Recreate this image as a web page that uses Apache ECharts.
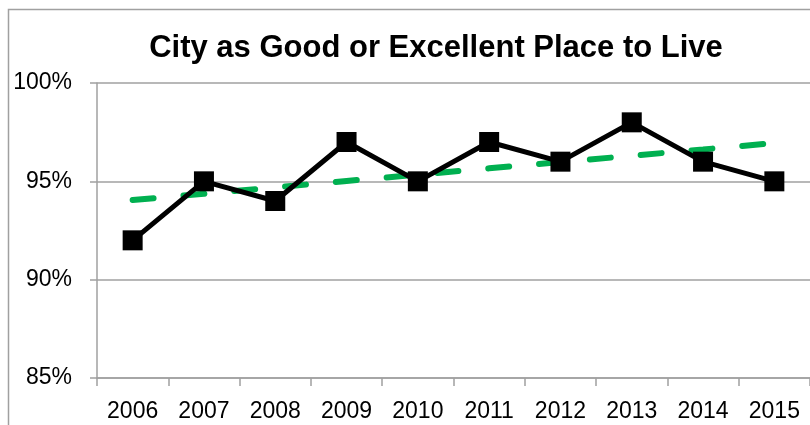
<!DOCTYPE html>
<html><head><meta charset="utf-8">
<script src="https://cdn.jsdelivr.net/npm/echarts@6/dist/echarts.min.js"></script>
<style>html,body{margin:0;padding:0;background:#fff}#c{width:810px;height:425px}</style>
</head><body><div id="c"></div>
<script>
const years = ['2006','2007','2008','2009','2010','2011','2012','2013','2014','2015'];
const rating = [92, 95, 94, 97, 95, 97, 96, 98, 96, 95];
const trend = [94.05, 94.37, 94.69, 95.02, 95.34, 95.66, 95.98, 96.30, 96.62, 96.95];
const yTicks = { min: 85, max: 100, step: 5 };

const chart = echarts.init(document.getElementById('c'), null, {renderer: 'canvas'});
const font = 'Liberation Sans, Arial, sans-serif';
chart.setOption({
  animation: false,
  title: {
    text: 'City as Good or Excellent Place to Live',
    left: 431, top: 28, textAlign: 'center',
    textStyle: { fontFamily: font, fontWeight: 'bold', fontSize: 31, color: '#000' }
  },
  graphic: [{
    type: 'rect', shape: { x: 8.5, y: 9.5, width: 900, height: 600 },
    style: { fill: 'none', stroke: '#a0a0a0', lineWidth: 1.5 }, silent: true, z: -1
  }],
  grid: { left: 97, right: -2, top: 83, bottom: 47, containLabel: false },
  xAxis: {
    type: 'category', data: years, boundaryGap: true,
    axisLine: { lineStyle: { color: '#a0a0a0', width: 1.5 } },
    axisTick: { show: true, length: 8, lineStyle: { color: '#a0a0a0', width: 1.5 } },
    axisLabel: { fontFamily: font, fontSize: 23, color: '#000', margin: 22 }
  },
  yAxis: {
    type: 'value', min: yTicks.min, max: yTicks.max, interval: yTicks.step,
    axisLine: { show: true, lineStyle: { color: '#a0a0a0', width: 1.5 } },
    axisTick: { show: true, length: 7, lineStyle: { color: '#a0a0a0', width: 1.5 } },
    splitLine: { lineStyle: { color: '#a0a0a0', width: 1.5 } },
    axisLabel: { fontFamily: font, fontSize: 23, color: '#000', margin: 25, formatter: v => v + '%' }
  },
  series: [{
    type: 'line', data: rating, symbol: 'rect', symbolSize: 20,
    lineStyle: { color: '#000', width: 5 }, itemStyle: { color: '#000' }, z: 3
  }, {
    type: 'line', data: trend, symbol: 'none',
    lineStyle: { color: '#00b050', width: 6, type: [21, 30], cap: 'round' }, z: 2
  }]
});
</script></body></html>
